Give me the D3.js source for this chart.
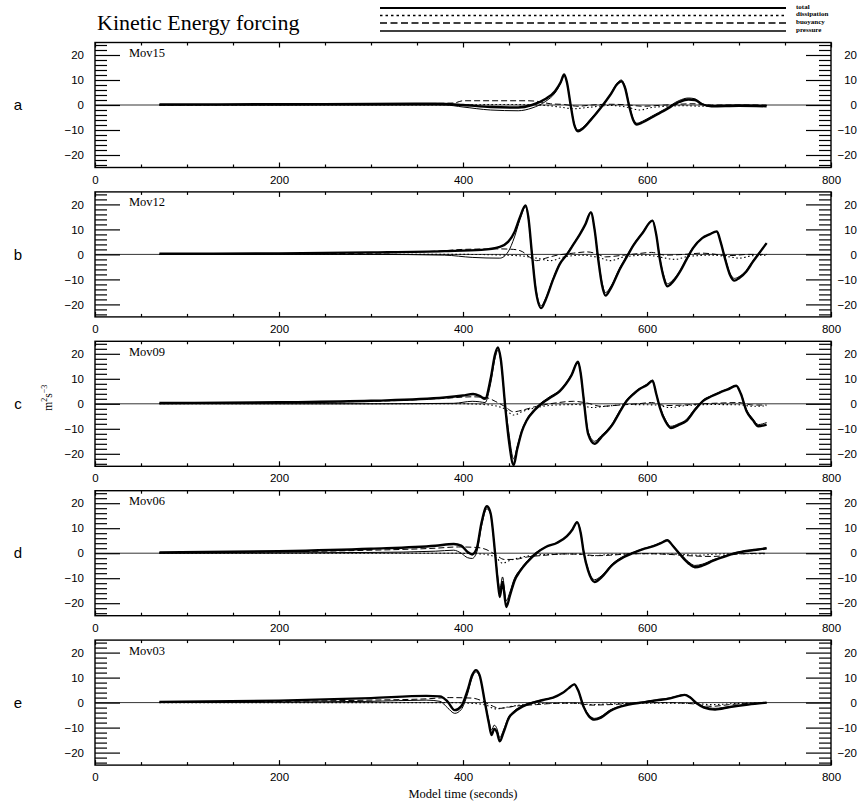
<!DOCTYPE html>
<html><head><meta charset="utf-8">
<script src="https://cdn.jsdelivr.net/npm/d3@7/dist/d3.min.js"></script>
<style>body{margin:0;background:#fff}svg{display:block}</style>
</head><body>
<svg id="c" width="863" height="803"></svg>
<script>
// ---------- data ----------
const panelNames = ["Mov15", "Mov12", "Mov09", "Mov06", "Mov03"];
const panelLetters = ["a", "b", "c", "d", "e"];
const seriesNames = ["total", "dissipation", "buoyancy", "pressure"];
const xTickValues = [0, 200, 400, 600, 800];
const yTickValues = [-20, -10, 0, 10, 20];
const yMinorValues = [-24,-22,-18,-16,-14,-12,-8,-6,-4,-2,2,4,6,8,12,14,16,18,22,24];
const xMinorValues = [50,100,150,250,300,350,450,500,550,650,700,750];

// Mov15 (a)
const totalMov15 = [[70,0.2],[200,0.3],[300,0.4],[370,0.5],[400,0],[430,-0.8],[460,-1.0],[475,0],[490,2.5],[500,5.5],[506,9],[510,12.2],[513,9],[517,0],[521,-8],[525,-10.5],[530,-9.5],[540,-5.5],[550,-1],[560,4],[568,8.5],[572,9.5],[576,7],[581,-1],[585,-6],[589,-7.8],[595,-7],[605,-5],[620,-2],[635,1.2],[645,2.2],[652,2],[660,0.3],[670,-0.5],[700,-0.3],[730,-0.5]];
const pressureMov15 = [[70,0],[300,0],[380,0],[400,-0.8],[430,-2],[460,-2.3],[475,-1.2],[490,1.5],[500,4.8],[506,8.5],[510,11.8],[513,9],[517,0],[521,-7.5],[525,-10],[530,-9],[540,-5],[550,-0.8],[560,4.2],[568,9],[572,10],[576,7.5],[581,-0.5],[585,-5.5],[589,-7.3],[595,-6.5],[605,-4.5],[620,-1.5],[635,1.8],[645,2.8],[652,2.5],[660,0.5],[670,-0.2],[700,0],[730,-0.2]];
const buoyancyMov15 = [[70,0],[300,0.3],[390,0.8],[400,1.7],[470,1.7],[480,1.5],[495,0.5],[510,0.2],[525,-0.5],[540,0],[560,0.3],[580,0],[595,-0.5],[620,0],[650,0.5],[670,0],[730,0]];
const dissipationMov15 = [[70,0],[380,0],[450,0.2],[490,-0.2],[505,-0.8],[520,-1.5],[535,-1.0],[560,-0.2],[580,-1.0],[592,-2.0],[605,-1.0],[640,-0.3],[660,-0.5],[730,-0.3]];

// Mov12 (b)
const totalMov12 = [[70,0.3],[200,0.4],[300,0.8],[380,1.3],[420,1.8],[440,3],[449,5],[456,9],[462,15],[468,19.6],[471,15],[475,0],[479,-14],[485,-21.5],[490,-18],[498,-10],[505,-4],[513,0],[520,4],[527,8],[533,12],[539,16.8],[543,10],[547,-2],[551,-12],[555,-16.5],[560,-14],[571,-5.5],[578,-1],[585,3.5],[595,8.5],[606,13.5],[610,8],[614,-2],[618,-9],[622,-12.8],[628,-11],[636,-6.8],[643,-2],[650,2.5],[660,6.5],[668,8],[676,9.2],[680,5],[685,-2],[690,-8],[695,-10.5],[700,-9.5],[708,-6.8],[715,-3],[722,0.5],[730,4.5]];
const pressureMov12 = [[70,0],[300,0],[380,-0.3],[410,-1.2],[440,-1.5],[449,1],[456,7],[462,14],[468,19],[471,14.5],[475,0],[479,-13],[485,-20.5],[490,-17.5],[498,-9.5],[505,-3.8],[513,0.3],[520,4.3],[527,8.2],[533,12.2],[539,17],[543,10],[547,-1.5],[551,-11],[555,-15.3],[560,-13.2],[571,-5],[578,-0.6],[585,3.8],[595,8.8],[606,13.6],[610,8],[614,-1.5],[618,-8.2],[622,-11.8],[628,-10.3],[636,-6.4],[643,-1.6],[650,2.8],[660,6.6],[668,8.1],[676,9.2],[680,5],[685,-1.5],[690,-7.4],[695,-9.6],[700,-8.9],[708,-6.4],[715,-2.6],[722,0.8],[730,4.6]];
const buoyancyMov12 = [[70,0],[300,0.5],[380,1.5],[400,2],[440,2.2],[455,2],[465,1],[472,-1],[480,-2.5],[490,-1.5],[500,-0.5],[520,0.5],[535,1],[545,0.3],[555,-1],[570,-0.5],[590,0.3],[605,0.8],[620,-0.3],[640,0],[660,0.5],[690,-0.5],[710,0],[730,0]];
const dissipationMov12 = [[70,0],[400,0],[460,-0.5],[480,-1.5],[495,-2.5],[510,-1],[530,-0.3],[550,-1.5],[560,-2.5],[575,-1],[600,-0.3],[620,-1.5],[630,-2],[645,-0.8],[670,-0.3],[690,-1],[700,-1.5],[715,-0.5],[730,-0.3]];

// Mov09 (c)
const totalMov09 = [[70,0.3],[200,0.6],[300,1.2],[380,2.5],[400,3.3],[411,3.9],[418,3.2],[424,2],[430,10],[435,20],[438,22.5],[441,18],[446,-1.5],[450,-15],[455,-24.5],[459,-18],[464,-11],[469,-6.8],[478,-2.5],[487,0.5],[495,2.5],[505,5],[512,8],[518,11.5],[525,16.8],[528,12],[531,2.5],[536,-12],[543,-16],[550,-13.5],[563,-8],[570,-3.5],[578,1.2],[585,3.8],[592,5.9],[600,7.5],[606,9.2],[610,4],[614,-1.5],[620,-7],[626,-9.7],[634,-8.5],[643,-6.8],[652,-2.5],[661,1.2],[670,3],[679,4.5],[688,5.8],[697,7.2],[702,4],[708,-2.8],[715,-6.5],[721,-9],[730,-8.3]];
const pressureMov09 = [[70,0],[300,0],[390,0.2],[410,1.0],[418,0.8],[424,0.5],[430,8],[435,18.5],[438,21.5],[441,17.5],[446,-0.5],[450,-12],[455,-22],[459,-17],[464,-10.5],[469,-6.5],[478,-2],[487,1],[495,3],[505,5.4],[512,8.4],[518,11.8],[525,17],[528,12.2],[531,3],[536,-11],[543,-15],[550,-12.8],[563,-7.5],[570,-3],[578,1.6],[585,4.2],[592,6.2],[600,7.8],[606,9.4],[610,4.2],[614,-1],[620,-6.3],[626,-9],[634,-8],[643,-6.2],[652,-2],[661,1.5],[670,3.2],[679,4.7],[688,6],[697,7.3],[702,4.2],[708,-2.2],[715,-6],[721,-8.3],[730,-7.5]];
const buoyancyMov09 = [[70,0.2],[300,1],[380,2.2],[410,2.8],[425,2.5],[435,1],[445,-1],[455,-3.2],[465,-2.5],[480,-1],[500,0.3],[520,1],[535,0.3],[550,-1],[570,-0.5],[590,0],[605,0.5],[620,-0.7],[640,-0.5],[660,0],[680,0.3],[700,0.5],[715,-0.5],[730,-0.5]];
const dissipationMov09 = [[70,0],[400,0],[430,-0.5],[445,-2],[455,-4.5],[465,-3],[480,-1.5],[500,-0.5],[525,-0.3],[540,-1.5],[555,-1],[580,-0.3],[610,-0.5],[625,-1.5],[640,-0.8],[670,-0.3],[700,-0.4],[715,-1],[730,-0.8]];

// Mov06 (d)
const totalMov06 = [[70,0.3],[200,0.8],[300,1.8],[370,3],[390,3.7],[398,3],[405,0.5],[410,-0.5],[415,2],[420,12],[426,18.8],[430,16],[435,-0.5],[438,-12],[440,-17.5],[443,-11.5],[447,-21.5],[451,-17],[456,-11],[462,-7.2],[470,-3.5],[480,0.1],[490,2.5],[502,4.1],[513,6.8],[519,9.5],[524,12.4],[528,8],[531,0.8],[536,-7],[543,-11.5],[550,-9.8],[563,-4.5],[575,-1.5],[585,0.1],[595,1.5],[607,2.8],[615,4],[622,5.2],[628,3],[636,-0.5],[645,-4],[652,-5.6],[660,-5],[672,-3],[685,-1.3],[697,0.1],[710,1],[721,1.5],[730,2]];
const pressureMov06 = [[70,0],[300,0.3],[370,0.8],[390,1.2],[398,0],[405,-1.8],[410,-2.1],[415,0.5],[420,10.5],[426,17.8],[430,15.5],[435,-0.3],[438,-10],[440,-14.5],[443,-9.5],[447,-19],[451,-15.5],[456,-10],[462,-6.6],[470,-3],[480,0.4],[490,2.6],[502,4.2],[513,6.9],[519,9.6],[524,12.5],[528,8.2],[531,1.2],[536,-6.3],[543,-10.6],[550,-9.2],[563,-4],[575,-1.1],[585,0.3],[595,1.7],[607,3],[615,4.2],[622,5.3],[628,3.2],[636,-0.2],[645,-3.4],[652,-4.9],[660,-4.4],[672,-2.6],[685,-1],[697,0.3],[710,1.1],[721,1.6],[730,2]];
const buoyancyMov06 = [[70,0.2],[300,1.2],[370,2],[395,2.5],[415,2.3],[425,1.5],[435,-0.5],[445,-2.5],[455,-2.5],[470,-1.5],[490,-0.8],[510,-0.3],[530,-0.5],[545,-1],[560,-0.8],[580,-0.3],[600,-0.2],[625,-0.5],[645,-1],[670,-1.3],[685,-1],[700,-0.3],[730,0]];
const dissipationMov06 = [[70,0],[380,0],[420,-0.3],[435,-1.5],[443,-4],[450,-3],[465,-1.5],[490,-0.5],[525,-0.3],[540,-1],[560,-0.5],[600,-0.2],[640,-0.5],[655,-0.8],[680,-0.3],[730,-0.2]];

// Mov03 (e)
const totalMov03 = [[70,0.3],[200,0.8],[300,1.8],[360,2.7],[375,2.5],[383,0.5],[391,-3],[398,-1.5],[405,5],[410,11],[414,13],[418,11],[424,-0.3],[428,-8],[431,-13],[434,-10.5],[437,-12],[440,-15.5],[444,-12],[450,-6],[455,-4],[465,-1.5],[480,0.4],[490,1.3],[498,2],[508,3.8],[515,5.8],[521,7.3],[525,5],[531,-1.6],[537,-5.5],[543,-6.8],[550,-6],[560,-3.3],[567,-2.1],[580,-0.8],[596,0.1],[610,0.9],[625,1.7],[635,2.7],[641,3.1],[647,2],[654,-0.3],[662,-2],[674,-2.8],[690,-1.8],[710,-0.8],[730,0]];
const pressureMov03 = [[70,0],[300,0.5],[360,1],[375,0.5],[383,-2],[391,-4.3],[398,-2.8],[405,3.5],[410,10],[414,12.3],[418,10.5],[424,0],[428,-7],[431,-11],[434,-9],[437,-10.5],[440,-14],[444,-11],[450,-5.5],[455,-3.5],[465,-1.2],[480,0.6],[490,1.4],[498,2.1],[508,3.9],[515,5.9],[521,7.4],[525,5.2],[531,-1.2],[537,-5],[543,-6.3],[550,-5.5],[560,-3],[567,-1.9],[580,-0.6],[596,0.3],[610,1.1],[625,1.9],[635,2.8],[641,3.2],[647,2.2],[654,0],[662,-1.6],[674,-2.3],[690,-1.5],[710,-0.6],[730,0]];
const buoyancyMov03 = [[70,0.2],[300,1],[360,1.5],[385,2],[410,1.8],[420,0.8],[430,-1],[440,-2.3],[455,-1.5],[480,-0.8],[500,-0.3],[520,-0.2],[540,-1],[560,-0.8],[590,-0.2],[620,0],[650,-0.5],[670,-1.5],[690,-0.8],[730,0]];
const dissipationMov03 = [[70,0],[380,0],[410,-0.3],[425,-1],[435,-2.5],[445,-2],[465,-0.8],[490,-0.3],[520,-0.2],[540,-0.8],[560,-0.5],[600,-0.2],[650,-0.3],[670,-0.8],[700,-0.3],[730,-0.1]];

const panelSeries = [
  {total: totalMov15, dissipation: dissipationMov15, buoyancy: buoyancyMov15, pressure: pressureMov15},
  {total: totalMov12, dissipation: dissipationMov12, buoyancy: buoyancyMov12, pressure: pressureMov12},
  {total: totalMov09, dissipation: dissipationMov09, buoyancy: buoyancyMov09, pressure: pressureMov09},
  {total: totalMov06, dissipation: dissipationMov06, buoyancy: buoyancyMov06, pressure: pressureMov06},
  {total: totalMov03, dissipation: dissipationMov03, buoyancy: buoyancyMov03, pressure: pressureMov03}
];

// ---------- styles ----------
const styles = {
  total:       {w: 2.4, dash: null},
  dissipation: {w: 1.1, dash: "1.5,2.5"},
  buoyancy:    {w: 1.0, dash: "6,3"},
  pressure:    {w: 1.0, dash: null}
};
const serif = "'Liberation Serif', 'Times New Roman', serif";
const sans = "'Liberation Sans', Arial, sans-serif";

const svg = d3.select("#c");
svg.append("rect").attr("width", 863).attr("height", 803).attr("fill", "#fff");

const L = 95, R = 831, H = 125, top0 = 42.5, step = 149.4;
const x = d3.scaleLinear().domain([0, 800]).range([L, R]);

// title
svg.append("text").attr("x", 97).attr("y", 30).attr("font-family", serif)
  .attr("font-size", 22).text("Kinetic Energy forcing");

// legend
const legY = [8, 15.5, 23, 31];
const legLabelY = [6.5, 14, 21.5, 29.5];
seriesNames.forEach((s, i) => {
  const st = styles[s];
  svg.append("line").attr("x1", 380).attr("x2", 786).attr("y1", legY[i]).attr("y2", legY[i])
    .attr("stroke", "#000").attr("stroke-width", s === "total" ? 2.2 : (s === "pressure" ? 1.3 : 1.5))
    .attr("stroke-dasharray", s === "dissipation" ? "2.5,3" : (s === "buoyancy" ? "7,3.5" : null));
  svg.append("text").attr("x", 796).attr("y", legLabelY[i]).attr("dy", "0.35em")
    .attr("font-family", serif).attr("font-size", 7).attr("font-weight", "bold").text(s);
});

panelNames.forEach((name, i) => {
  const top = top0 + i * step, bot = top + H;
  const y = d3.scaleLinear().domain([-25, 25]).range([bot, top]);
  const g = svg.append("g");

  g.append("clipPath").attr("id", "clip" + i).append("rect")
    .attr("x", L).attr("y", top).attr("width", R - L).attr("height", H);

  // zero line
  g.append("line").attr("x1", L).attr("x2", R).attr("y1", y(0)).attr("y2", y(0))
    .attr("stroke", "#000").attr("stroke-width", 0.8);

  // axes: left
  const minorL = g.append("g").attr("transform", `translate(${L},0)`)
    .call(d3.axisLeft(y).tickValues(yMinorValues).tickSize(-12).tickFormat(""));
  const majorL = g.append("g").attr("transform", `translate(${L},0)`)
    .call(d3.axisLeft(y).tickValues(yTickValues).tickSize(-25).tickPadding(11)
      .tickFormat(d => d < 0 ? "\u2212" + Math.abs(d) : d));
  // right
  const minorR = g.append("g").attr("transform", `translate(${R},0)`)
    .call(d3.axisRight(y).tickValues(yMinorValues).tickSize(-12).tickFormat(""));
  const majorR = g.append("g").attr("transform", `translate(${R},0)`)
    .call(d3.axisRight(y).tickValues(yTickValues).tickSize(-25).tickPadding(26)
      .tickFormat(d => d < 0 ? "\u2212" + Math.abs(d) : d));
  majorR.selectAll("text").attr("text-anchor", "end");
  // bottom
  const minorB = g.append("g").attr("transform", `translate(0,${bot})`)
    .call(d3.axisBottom(x).tickValues(xMinorValues).tickSize(-3).tickFormat(""));
  const majorB = g.append("g").attr("transform", `translate(0,${bot})`)
    .call(d3.axisBottom(x).tickValues(xTickValues).tickSize(-5).tickPadding(8));
  // top
  const minorT = g.append("g").attr("transform", `translate(0,${top})`)
    .call(d3.axisTop(x).tickValues(xMinorValues).tickSize(-3).tickFormat(""));
  const majorT = g.append("g").attr("transform", `translate(0,${top})`)
    .call(d3.axisTop(x).tickValues(xTickValues).tickSize(-5).tickFormat(""));

  [minorL, majorL, minorR, majorR, minorB, majorB, minorT, majorT].forEach(a => {
    a.select(".domain").remove();
    a.selectAll("line").attr("stroke", "#000").attr("stroke-width", 1.2);
    a.selectAll("text").attr("font-family", sans).attr("font-size", 11.5).attr("fill", "#000");
  });

  // frame
  g.append("rect").attr("x", L).attr("y", top).attr("width", R - L).attr("height", H)
    .attr("fill", "none").attr("stroke", "#000").attr("stroke-width", 1.4);

  // series
  const line = d3.line().x(d => x(d[0])).y(d => y(d[1])).curve(d3.curveMonotoneX);
  const order = ["dissipation", "buoyancy", "total", "pressure"];
  const ser = panelSeries[i];
  order.forEach(s => {
    g.append("path").datum(ser[s]).attr("d", line).attr("clip-path", `url(#clip${i})`)
      .attr("fill", "none").attr("stroke", "#000").attr("stroke-width", styles[s].w)
      .attr("stroke-dasharray", styles[s].dash).attr("stroke-linejoin", "round");
  });

  // panel name
  g.append("text").attr("x", 129).attr("y", top + 14.5).attr("font-family", serif)
    .attr("font-size", 12.5).text(name);
  // panel letter
  g.append("text").attr("x", 18).attr("y", y(0)).attr("dy", "0.35em").attr("text-anchor", "middle")
    .attr("font-family", sans).attr("font-size", 15).text(panelLetters[i]);

  if (i === 2) {
    const yl = g.append("text").attr("transform", `translate(52,${y(0) - 6}) rotate(-90)`)
      .attr("text-anchor", "middle").attr("font-family", serif).attr("font-size", 11.5);
    yl.append("tspan").text("m");
    yl.append("tspan").attr("font-size", 8).attr("dy", -5).text("2");
    yl.append("tspan").attr("dy", 5).text("s");
    yl.append("tspan").attr("font-size", 8).attr("dy", -5).text("\u22123");
  }
});

// x-axis title
svg.append("text").attr("x", x(400)).attr("y", 798).attr("text-anchor", "middle")
  .attr("font-family", serif).attr("font-size", 12.5).text("Model time (seconds)");
</script>
</body></html>
